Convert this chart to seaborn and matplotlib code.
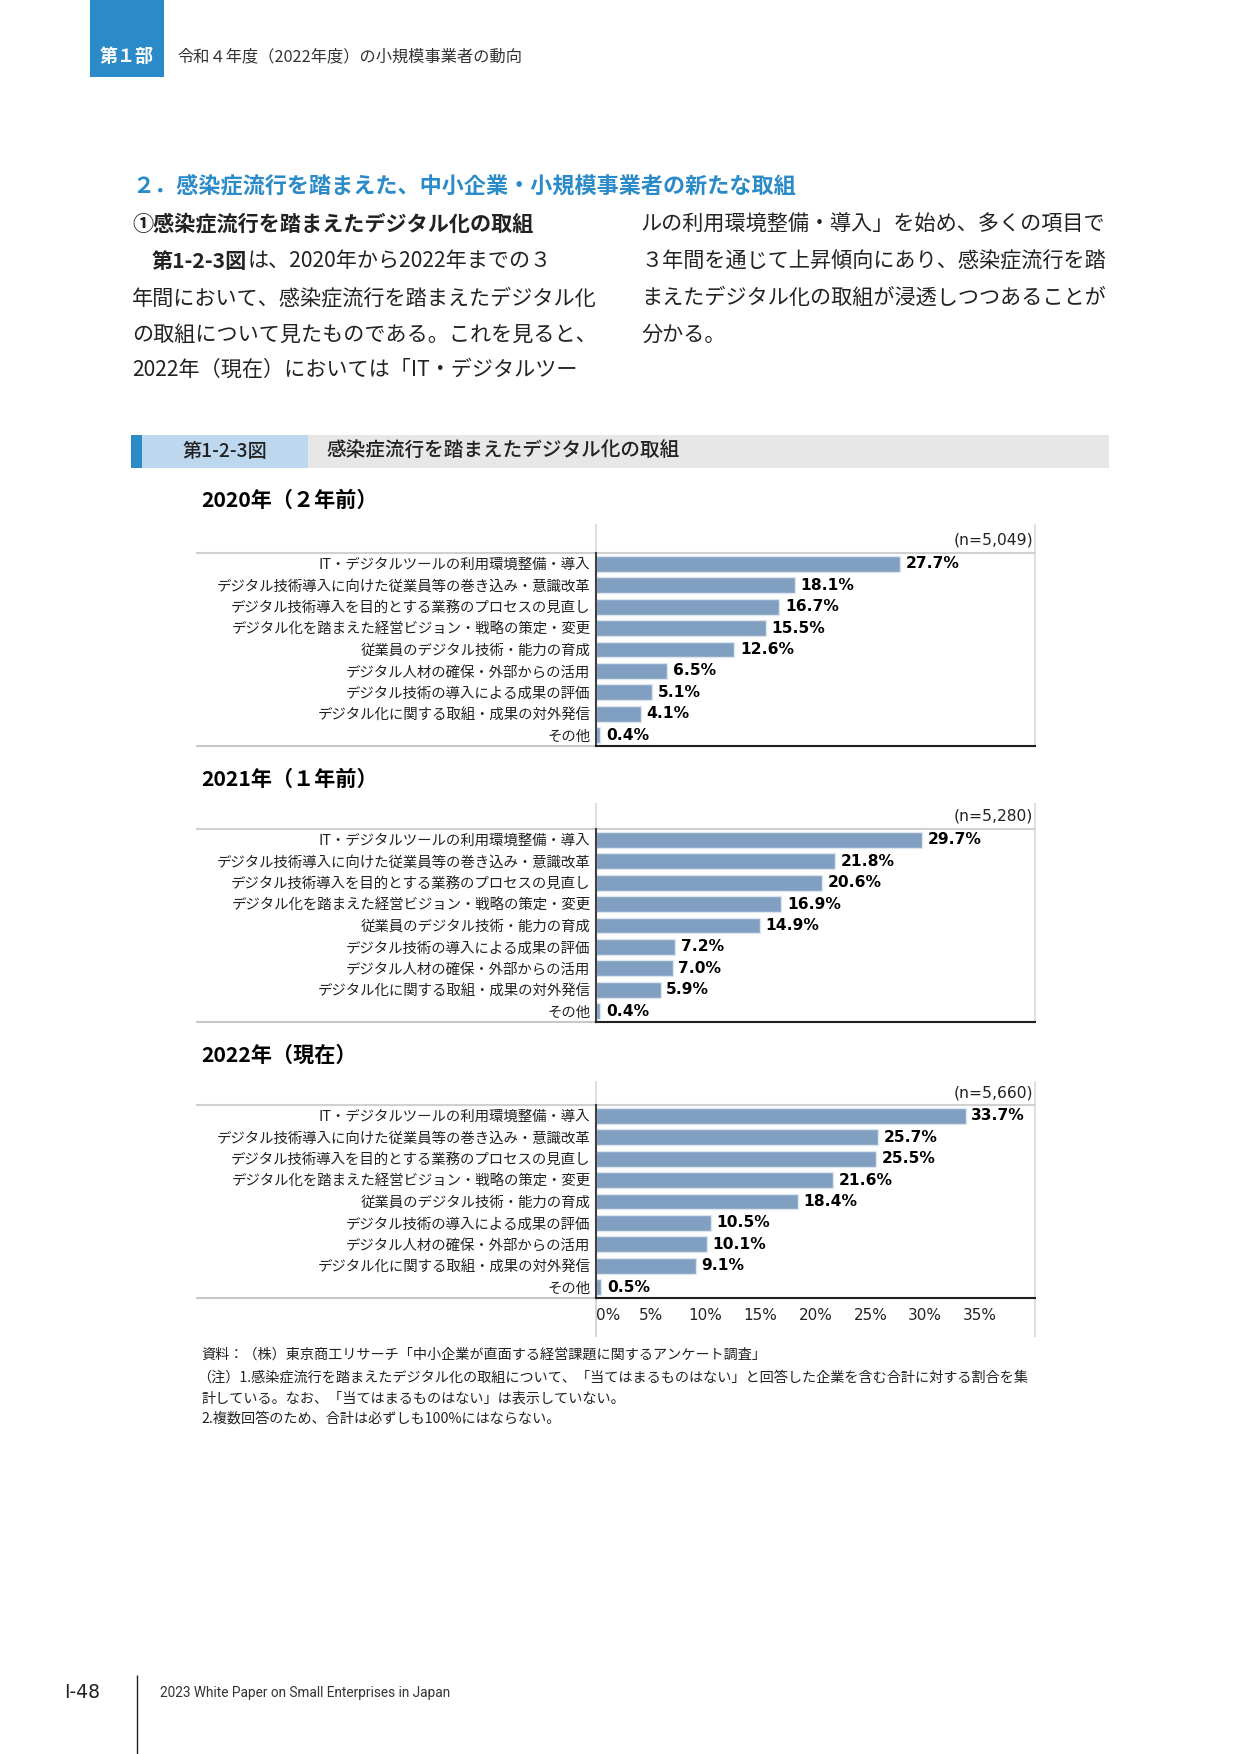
import matplotlib
matplotlib.use("Agg")
import matplotlib.pyplot as plt
import pandas as pd
import seaborn as sns
from matplotlib.patches import Rectangle

# --- data ---
CATS_2020 = [
    "IT・デジタルツールの利用環境整備・導入",
    "デジタル技術導入に向けた従業員等の巻き込み・意識改革",
    "デジタル技術導入を目的とする業務のプロセスの見直し",
    "デジタル化を踏まえた経営ビジョン・戦略の策定・変更",
    "従業員のデジタル技術・能力の育成",
    "デジタル人材の確保・外部からの活用",
    "デジタル技術の導入による成果の評価",
    "デジタル化に関する取組・成果の対外発信",
    "その他",
]
VALS_2020 = [27.7, 18.1, 16.7, 15.5, 12.6, 6.5, 5.1, 4.1, 0.4]

CATS_2021 = [
    "IT・デジタルツールの利用環境整備・導入",
    "デジタル技術導入に向けた従業員等の巻き込み・意識改革",
    "デジタル技術導入を目的とする業務のプロセスの見直し",
    "デジタル化を踏まえた経営ビジョン・戦略の策定・変更",
    "従業員のデジタル技術・能力の育成",
    "デジタル技術の導入による成果の評価",
    "デジタル人材の確保・外部からの活用",
    "デジタル化に関する取組・成果の対外発信",
    "その他",
]
VALS_2021 = [29.7, 21.8, 20.6, 16.9, 14.9, 7.2, 7.0, 5.9, 0.4]

CATS_2022 = list(CATS_2021)
VALS_2022 = [33.7, 25.7, 25.5, 21.6, 18.4, 10.5, 10.1, 9.1, 0.5]

TITLES = ["2020年（２年前）", "2021年（１年前）", "2022年（現在）"]
N_LABELS = ["(n=5,049)", "(n=5,280)", "(n=5,660)"]
X_TICKS = [0, 5, 10, 15, 20, 25, 30, 35]
X_TICK_LABELS = ["0%", "5%", "10%", "15%", "20%", "25%", "30%", "35%"]

# --- page geometry (pixels) ---
W, H = 1241, 1754
BAR_COLOR = "#819fc0"
BLUE = "#2a8bc8"
TEXT = "#222222"

sns.set_style("white")
plt.rcParams["font.family"] = ["Noto Sans CJK JP", "DejaVu Sans"]

fig = plt.figure(figsize=(W / 100, H / 100), dpi=100)
page = fig.add_axes([0, 0, 1, 1])
page.set_xlim(0, W)
page.set_ylim(H, 0)
page.axis("off")


def hline(x0, x1, y, color, lw=1.2):
    page.plot([x0, x1], [y, y], color=color, lw=lw, solid_capstyle="butt")


def vline(x, y0, y1, color, lw=1.2):
    page.plot([x, x], [y0, y1], color=color, lw=lw, solid_capstyle="butt")


# --- page header ---
page.add_patch(Rectangle((90, 0), 74, 77, color=BLUE, lw=0))
page.text(127, 57, "第１部", color="white", fontsize=13, fontweight="bold",
          ha="center", va="center")
page.text(177, 57, "令和４年度（2022年度）の小規模事業者の動向", color="#333333",
          fontsize=11.7, va="center")

page.text(132, 187, "２．感染症流行を踏まえた、中小企業・小規模事業者の新たな取組",
          color=BLUE, fontsize=15.9, fontweight="bold", va="center")
page.text(132, 224, "①感染症流行を踏まえたデジタル化の取組", color=TEXT,
          fontsize=15.2, fontweight="bold", va="center")

body_fs = 15.2
page.text(152, 261, "第1-2-3図", color=TEXT, fontsize=body_fs, fontweight="bold",
          va="center")
page.text(248, 261, "は、2020年から2022年までの３", color=TEXT, fontsize=body_fs,
          va="center")
left_lines = [
    "年間において、感染症流行を踏まえたデジタル化",
    "の取組について見たものである。これを見ると、",
    "2022年（現在）においては「IT・デジタルツー",
]
for y, line in zip([298, 335, 370], left_lines):
    page.text(132, y, line, color=TEXT, fontsize=body_fs, va="center")
right_lines = [
    "ルの利用環境整備・導入」を始め、多くの項目で",
    "３年間を通じて上昇傾向にあり、感染症流行を踏",
    "まえたデジタル化の取組が浸透しつつあることが",
    "分かる。",
]
for y, line in zip([224, 261, 298, 335], right_lines):
    page.text(641, y, line, color=TEXT, fontsize=body_fs, va="center")

# --- figure title bar ---
page.add_patch(Rectangle((131, 435), 11, 33, color=BLUE, lw=0))
page.add_patch(Rectangle((142, 435), 166, 33, color="#bdd7ee", lw=0))
page.add_patch(Rectangle((308, 435), 801, 33, color="#e7e7e7", lw=0))
page.text(225, 451, "第1-2-3図", color=TEXT, fontsize=13.8, fontweight="medium",
          ha="center", va="center")
page.text(326, 451, "感染症流行を踏まえたデジタル化の取組", color=TEXT,
          fontsize=14.1, fontweight="medium", va="center")

# --- the three bar charts ---
AX_L, AX_R = 596, 1035
charts = [
    # (categories, values, title y, frame top, n label y, category top, bottom)
    (CATS_2020, VALS_2020, 500, 524, 540, 553, 746),
    (CATS_2021, VALS_2021, 779, 803, 816, 829, 1022),
    (CATS_2022, VALS_2022, 1055, 1081, 1093, 1105, 1298),
]

for i, (cats, vals, ty, ftop, ny, ctop, bot) in enumerate(charts):
    last = i == len(charts) - 1
    page.text(201, ty, TITLES[i], color="black", fontsize=15.2,
              fontweight="bold", va="center")

    # frame lines around the chart
    vline(AX_L, ftop, ctop, "#d9d9d9")
    vline(AX_R, ftop, bot + (39 if last else 0), "#d9d9d9")
    hline(196, AX_R, ctop, "#d0d0d0", lw=1.5)
    hline(196, AX_L, bot, "#c8c8c8", lw=1.5)
    if last:
        vline(AX_L, bot, bot + 39, "#d0d0d0")
    page.text(AX_R - 2, ny, N_LABELS[i], color=TEXT, fontsize=11.2,
              family="DejaVu Sans", ha="right", va="center")

    ax = fig.add_axes([AX_L / W, 1 - bot / H, (AX_R - AX_L) / W, (bot - ctop) / H])
    df = pd.DataFrame({"item": cats, "share": vals})
    sns.barplot(data=df, x="share", y="item", orient="h", color=BAR_COLOR,
                saturation=1, width=0.74, edgecolor="#dde6ef", linewidth=1,
                ax=ax)
    ax.set_xlim(0, 40)
    ax.set_ylim(len(cats) - 0.5, -0.5)
    ax.set_xlabel("")
    ax.set_ylabel("")
    ax.patch.set_alpha(0)
    ax.bar_label(ax.containers[0], labels=[f"{v:.1f}%" for v in vals],
                 padding=4, fontsize=11.2, fontweight="bold",
                 family="DejaVu Sans", color="black")

    for side in ["top", "right"]:
        ax.spines[side].set_visible(False)
    ax.spines["left"].set_color("#404040")
    ax.spines["left"].set_linewidth(1.5)
    ax.spines["bottom"].set_color("#202020")
    ax.spines["bottom"].set_linewidth(1.5)

    ax.tick_params(axis="y", length=0, pad=4, labelsize=10.4, labelcolor=TEXT)
    if last:
        ax.set_xticks(X_TICKS + [40])
        ax.set_xticklabels(X_TICK_LABELS + [""], family="DejaVu Sans")
        ax.tick_params(axis="x", direction="out", length=4.5, width=1,
                       color="#202020", pad=3, labelsize=11, labelcolor=TEXT)
        ax.get_xticklabels()[0].set_horizontalalignment("left")
    else:
        ax.set_xticks([])

# --- source and notes ---
notes = [
    (201, 1355, "資料：（株）東京商工リサーチ「中小企業が直面する経営課題に関するアンケート調査」"),
    (197, 1378, "（注）1.感染症流行を踏まえたデジタル化の取組について、「当てはまるものはない」と回答した企業を含む合計に対する割合を集"),
    (201, 1398, "計している。なお、「当てはまるものはない」は表示していない。"),
    (201, 1419, "2.複数回答のため、合計は必ずしも100%にはならない。"),
]
for x, y, line in notes:
    page.text(x, y, line, color=TEXT, fontsize=10.2, va="center")

# --- footer ---
vline(137, 1675, H, "#222222", lw=1)
page.text(64, 1693, "I-48", color=TEXT, fontsize=13.5, family="DejaVu Sans",
          va="center")
page.text(160, 1693, "2023 White Paper on Small Enterprises in Japan", color="#333333",
          fontsize=9.8, family="Roboto", va="center")

fig.savefig("out.png", dpi=100)
